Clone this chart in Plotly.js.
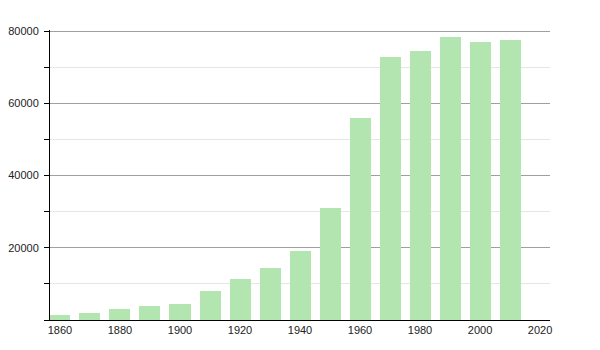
<!DOCTYPE html>
<html>
<head>
<meta charset="utf-8">
<script src="https://cdn.plot.ly/plotly-3.0.1.min.js"></script>
<style>html,body{margin:0;padding:0;background:#fff;}#chart{width:600px;height:350px;}</style>
</head>
<body>
<div id="chart"></div>
<script>
const years = [1860, 1870, 1880, 1890, 1900, 1910, 1920, 1930, 1940, 1950, 1960, 1970, 1980, 1990, 2000, 2010];
const population = [1400, 1950, 3050, 3900, 4450, 8000, 11400, 14400, 19100, 31000, 55900, 72800, 74400, 78300, 76900, 77500];
const yTickVals = [20000, 40000, 60000, 80000];
const xTickVals = [1860, 1880, 1900, 1920, 1940, 1960, 1980, 2000, 2020];

const trace = {
  type: 'bar',
  x: years,
  y: population,
  width: 7,
  marker: {color: '#b3e5b0', line: {width: 0}},
  hoverinfo: 'x+y'
};

const layout = {
  width: 600, height: 350,
  margin: {l: 50, r: 50, t: 30, b: 30},
  paper_bgcolor: '#fff', plot_bgcolor: '#fff',
  font: {family: 'Liberation Sans, Arial, sans-serif', size: 11, color: '#222'},
  showlegend: false,
  bargap: 0,
  xaxis: {
    range: [1856.67, 2023.33],
    tickvals: xTickVals,
    tickformat: 'd',
    showgrid: false, zeroline: false,
    showline: true, linecolor: '#000', linewidth: 1,
    ticks: '', ticklen: 0,
    tickfont: {size: 11, color: '#222'}
  },
  yaxis: {
    range: [0, 80280],
    tickvals: yTickVals,
    tickformat: 'd',
    ticklabelstandoff: 3,
    showgrid: true, gridcolor: '#a0a0a0', gridwidth: 1,
    zeroline: false,
    showline: true, linecolor: '#000', linewidth: 1,
    ticks: 'outside', ticklen: 5, tickcolor: '#000',
    tickfont: {size: 11, color: '#222'},
    minor: {tick0: 0, dtick: 10000, showgrid: true, gridcolor: '#e6e6e6', gridwidth: 1, ticks: 'outside', ticklen: 5, tickcolor: '#000'}
  }
};

Plotly.newPlot('chart', [trace], layout, {staticPlot: true, displayModeBar: false});
</script>
</body>
</html>
